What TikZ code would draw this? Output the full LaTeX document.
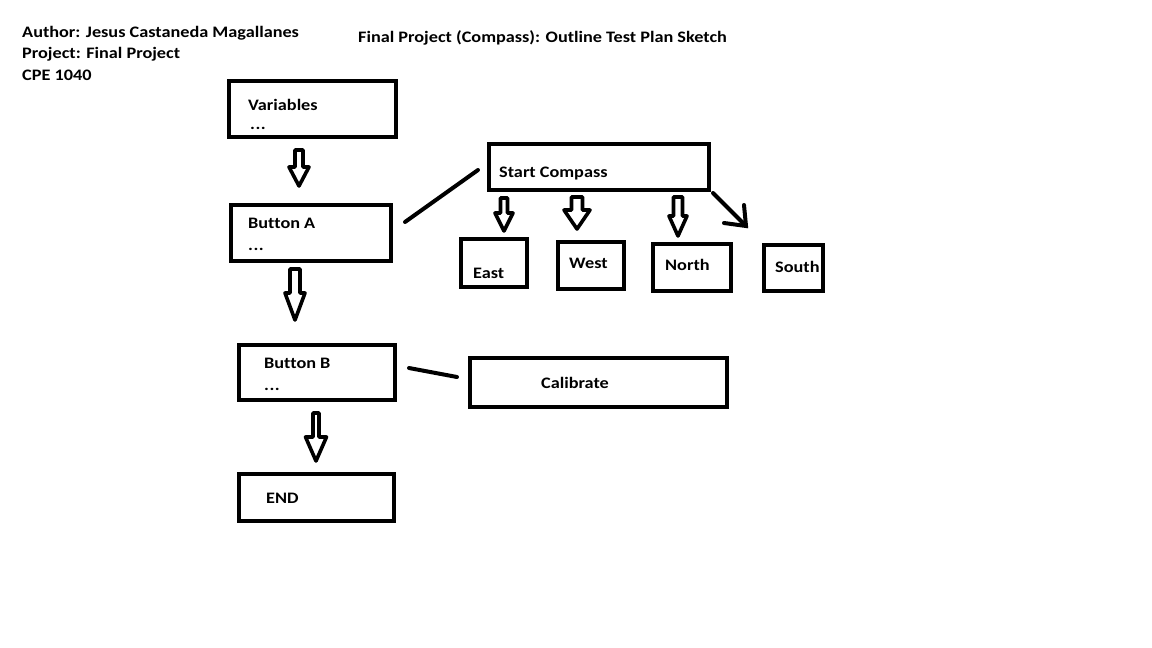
\documentclass[tikz,border=0pt]{standalone}
\usepackage{fontspec}
\setmainfont{Carlito}[FakeStretch=1.14,Ligatures=NoCommon]
\begin{document}
\begin{tikzpicture}[x=1pt,y=-1pt,
  box/.style={draw=black,line width=4pt,rectangle,inner sep=0pt,outer sep=0pt,fill=white},
  txt/.style={anchor=base west,inner sep=0pt,font=\fontsize{16}{19}\selectfont\bfseries},
  conn/.style={draw=black,line width=4pt,line cap=round},
  hollow/.style={draw=black,line width=3.6pt,line join=round,fill=white}]
\useasboundingbox[fill=white] (0,0) rectangle (1152,648);
% header
\node[txt] (author) at (22,37) {Author: Jesus Castaneda Magallanes};
\node[txt] (proj) at (22,58) {Project: Final Project};
\node[txt] (cpe) at (22,80) {CPE 1040};
\node[txt] (title) at (358,42) {Final Project (Compass): Outline Test Plan Sketch};
% boxes
\node[box,minimum width=167,minimum height=56] (var) at (312.5,109) {};
\node[box,minimum width=160,minimum height=56] (btna) at (311,233) {};
\node[box,minimum width=156,minimum height=55] (btnb) at (317,372.5) {};
\node[box,minimum width=155,minimum height=47] (endb) at (316.5,497.5) {};
\node[box,minimum width=220,minimum height=46] (start) at (599,167) {};
\node[box,minimum width=66,minimum height=48] (east) at (494,263) {};
\node[box,minimum width=66,minimum height=47] (west) at (591,265.5) {};
\node[box,minimum width=78,minimum height=47] (north) at (692,267.5) {};
\node[box,minimum width=59,minimum height=46] (south) at (793.5,268) {};
\node[box,minimum width=257,minimum height=49] (calib) at (598.5,382.5) {};
% texts
\node[txt] (tvar) at (248,110) {Variables};
\node[txt] (tvard) at (250,129) {.\kern0.5pt.\kern0.5pt.};
\node[txt] (tbtna) at (248,228) {Button A};
\node[txt] (tbtnad) at (248,250) {.\kern0.5pt.\kern0.5pt.};
\node[txt] (tbtnb) at (264,368) {Button B};
\node[txt] (tbtnbd) at (264,390) {.\kern0.5pt.\kern0.5pt.};
\node[txt] (tend) at (266,503) {END};
\node[txt] (tstart) at (499,177) {Start Compass};
\node[txt] (teast) at (473,278) {East};
\node[txt] (twest) at (569,268) {West};
\node[txt] (tnorth) at (665,270) {North};
\node[txt] (tsouth) at (775,272) {South};
\node[txt] (tcalib) at (541,388) {Calibrate};
% hollow block arrows: center x, top, head start, tip, shaft half, head half (outer)
\newcommand{\hollowarrow}[6]{%
  \path[hollow] ({#1-#5+2},{#2+2}) -- ({#1-#5+2},#3) -- ({#1-#6+2},#3) -- (#1,{#4-2})
    -- ({#1+#6-2},#3) -- ({#1+#5-2},#3) -- ({#1+#5-2},{#2+2}) -- cycle;}
\hollowarrow{299}{148}{167}{188}{6}{12}
\hollowarrow{295}{267}{293}{322}{7}{12}
\hollowarrow{316}{411}{437}{463}{5}{12.5}
\hollowarrow{504}{196}{213}{233}{5.5}{11}
\hollowarrow{577}{195}{210}{231}{7.5}{15}
\hollowarrow{678}{195}{216}{238}{6.5}{11}
% connector lines
\coordinate (a1) at (405,222);
\coordinate (a2) at (478,170);
\draw[conn] (a1) -- (a2);
\coordinate (b1) at (409,368);
\coordinate (b2) at (457,377);
\draw[conn] (b1) -- (b2);
% diagonal open arrow to South
\coordinate (d1) at (713,193);
\coordinate (d2) at (746,226);
\coordinate (h1) at (744,205);
\coordinate (h2) at (724,223);
\draw[conn] (d1) -- (d2);
\draw[conn] (h1) -- (d2) -- (h2);
\end{tikzpicture}
\end{document}
